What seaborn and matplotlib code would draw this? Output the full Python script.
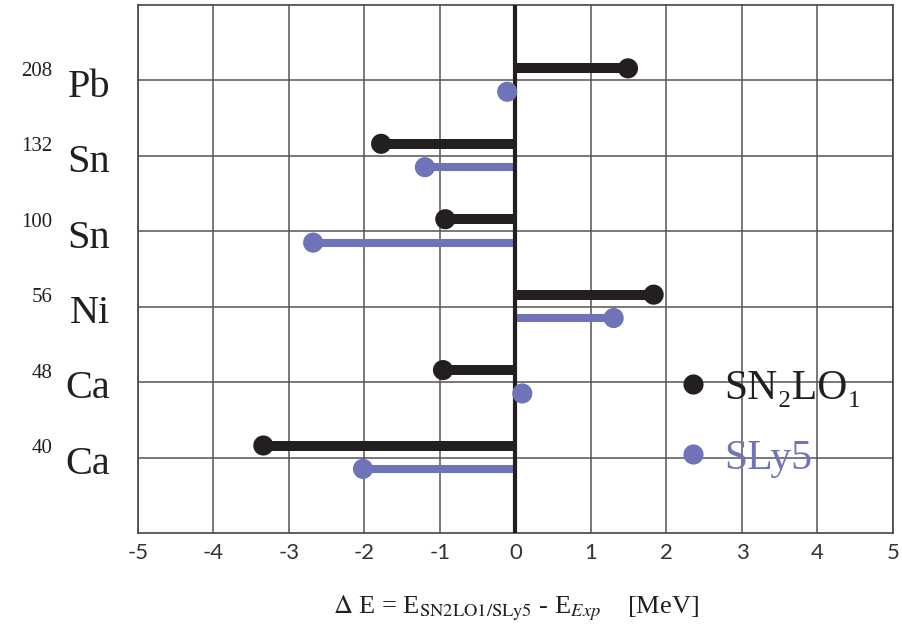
import matplotlib
matplotlib.use("Agg")
import matplotlib.pyplot as plt
import seaborn as sns
import pandas as pd

# nuclei, bottom to top
elements = ["Ca", "Ca", "Ni", "Sn", "Sn", "Pb"]
masses = ["40", "48", "56", "100", "132", "208"]
# Delta E [MeV]
sn2lo1 = [-3.34, -0.96, 1.83, -0.93, -1.78, 1.49]
sly5 = [-2.02, 0.09, 1.30, -2.68, -1.20, -0.11]

models = ["SN\u2082LO\u2081", "SLy5"]
colors = {"SN\u2082LO\u2081": "#231f20", "SLy5": "#6f73b7"}
offsets = {"SN\u2082LO\u2081": 0.16, "SLy5": -0.15}
stem_lw = {"SN\u2082LO\u2081": 7.2, "SLy5": 5.8}

rows = []
for i in range(len(elements)):
    rows.append({"pos": i, "model": models[0], "dE": sn2lo1[i]})
    rows.append({"pos": i, "model": models[1], "dE": sly5[i]})
df = pd.DataFrame(rows)
df["y"] = df["pos"] + df["model"].map(offsets)

sns.set_style("white")
plt.rcParams["font.family"] = ["Liberation Serif", "DejaVu Serif"]
plt.rcParams["mathtext.fontset"] = "stix"
plt.rcParams["axes.unicode_minus"] = False

fig = plt.figure(figsize=(9.03, 6.44), dpi=100)
ax = fig.add_axes([138 / 903, 1 - 533 / 644, 755 / 903, 528 / 644])

# stems
for m in models:
    sub = df[df["model"] == m]
    ax.hlines(sub["y"], 0, sub["dE"], color=colors[m], lw=stem_lw[m], zorder=2)
ax.axvline(0, color="#231f20", lw=3, zorder=3)

sns.scatterplot(data=df, x="dE", y="y", hue="model", palette=colors, s=210,
                edgecolor="none", linewidth=0, zorder=4, ax=ax)

ax.set_xlim(-5, 5)
ax.set_ylim(-1, 6)
ax.set_xticks(range(-5, 6))
ax.set_xticklabels([str(v) for v in range(-5, 6)], fontfamily="Lato",
                   fontsize=16, color="#333333")
ax.set_yticks(range(len(elements)))
ax.set_yticklabels([])
ax.tick_params(length=0, pad=7)
ax.grid(True, color="#555555", lw=1.1, zorder=0)
ax.set_axisbelow(True)
for s in ax.spines.values():
    s.set_color("#444444")
    s.set_linewidth(1.2)

tr = ax.get_yaxis_transform()
for i in range(len(elements)):
    ax.text(-0.037, i - 0.09, elements[i], transform=tr, ha="right", va="center",
            fontsize=29, color="#231f20")
    ax.text(-0.113, i + 0.12, masses[i], transform=tr, ha="right", va="center",
            fontsize=15, color="#231f20")

ax.set_xlabel(r"$\Delta$ E = E$_{\mathrm{SN2LO1/SLy5}}$ - E$_{Exp}$    [MeV]",
              fontsize=19, labelpad=22, color="#231f20")
ax.set_ylabel("")

leg = ax.legend(loc="center left", bbox_to_anchor=(0.68, 0.207), frameon=False,
                fontsize=30, handlelength=1.0, handletextpad=0.25,
                labelspacing=0.76, borderpad=0, markerscale=1.0)
for txt, m in zip(leg.get_texts(), models):
    txt.set_color(colors[m])

plt.savefig("out.png", dpi=100)
